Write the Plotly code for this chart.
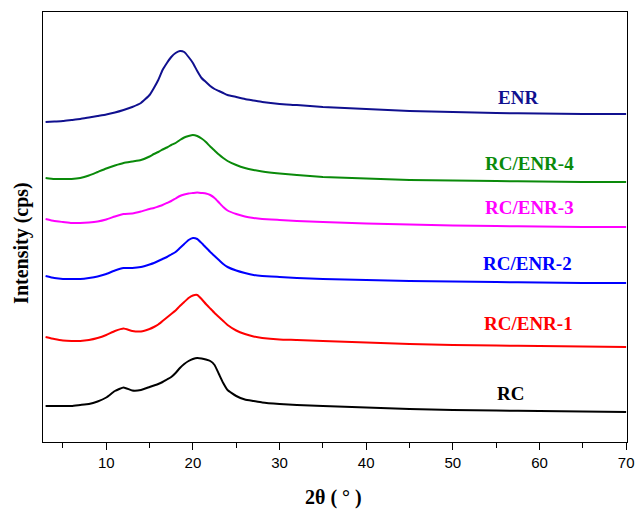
import plotly.graph_objects as go

# 2-theta grid (degrees)
two_theta = [3, 4, 5, 6, 7, 8, 9, 10, 11, 12, 13, 14, 15,
             15.5, 16, 16.5, 17, 17.5, 18, 18.5, 19, 19.5, 20, 20.5, 21, 21.5, 22, 22.5, 23, 23.5, 24,
             25, 26, 27, 28, 30, 32, 35, 40, 45, 50, 55, 60, 65, 70]

# stacked intensities (arbitrary units, offset per sample)
enr = [320, 320.5, 321, 322, 323, 324.5, 326, 327.5, 329.5, 332, 335, 339, 347,
       354, 362, 372, 379, 385, 389, 391, 390, 385, 379, 371, 364, 360, 356, 353, 351, 349, 347,
       345, 343, 341.5, 340, 338, 337, 335, 333, 331, 330, 329, 328.5, 328, 328]
rc_enr4 = [264, 263, 263, 263, 264, 266.5, 270, 273.5, 276.5, 279, 280.5, 282, 285.5,
           288, 290, 292.5, 294.5, 297, 299, 302, 304.5, 306, 307, 306, 303.5, 300, 295.5, 291.5, 287.5, 284, 281,
           277, 274, 272, 270.5, 268.5, 267, 265, 263.5, 262, 261.5, 261, 260.5, 260, 260]
rc_enr3 = [223, 221, 220, 219, 219, 219.5, 220.5, 222.5, 225.5, 228, 228.5, 230.5, 233,
           234, 235.5, 237, 239, 241, 243.5, 246, 247.5, 248.5, 249, 249.5, 249, 248.5, 247, 244, 239.5, 235, 231.5,
           228, 225.5, 224, 223, 222, 221, 220, 218.5, 217.5, 216.5, 216, 215.5, 215, 215]
rc_enr2 = [166, 164, 163, 163, 163, 164, 165.5, 168, 171.5, 174, 174, 175, 177.5,
           179, 181, 183, 185, 187.5, 190, 194, 198, 202, 204, 203, 199, 194.5, 190, 186, 182, 178, 175,
           171.5, 169, 167, 166, 165, 164, 163, 162, 161, 160.5, 160, 159.5, 159, 159]
rc_enr1 = [105, 103, 101.5, 101, 101, 102, 104, 107, 111, 113.5, 111, 110.5, 113,
           115, 117.5, 121, 124.5, 128, 131.5, 136, 140, 144, 146.5, 147, 143, 138, 133.5, 129, 125, 121, 117,
           111.5, 108, 105.5, 104, 102.5, 102, 101, 99.5, 98, 97, 96.5, 96, 95.5, 95]
rc = [36, 36, 36, 36, 37, 38, 40.5, 44.5, 51, 54.5, 51.5, 52, 55,
      56.5, 58, 60, 62.5, 65, 69, 74, 78, 81, 83, 84, 83.5, 82.5, 81, 77, 68, 59, 52,
      46, 42.5, 41, 39.5, 38, 37, 36, 34.5, 33, 32, 31.5, 31, 30.5, 30]

series_names = ["ENR", "RC/ENR-4", "RC/ENR-3", "RC/ENR-2", "RC/ENR-1", "RC"]
series_values = [enr, rc_enr4, rc_enr3, rc_enr2, rc_enr1, rc]
series_colors = ["#10108f", "#0a8a0a", "#ff00ff", "#0000ff", "#ff0000", "#000000"]
label_x = [57.5, 58.9, 58.9, 58.6, 58.7, 56.6]
label_y = [345, 279, 235, 179, 119, 49]

fig = go.Figure()
for name, vals, col in zip(series_names, series_values, series_colors):
    fig.add_trace(go.Scatter(x=two_theta, y=vals, mode="lines", name=name,
                             line=dict(color=col, width=2, shape="spline", smoothing=0.4),
                             showlegend=False))

for name, col, lx, ly in zip(series_names, series_colors, label_x, label_y):
    fig.add_annotation(x=lx, y=ly, text="<b>%s</b>" % name, showarrow=False,
                       font=dict(family="Liberation Serif", size=19, color=col),
                       xanchor="center", yanchor="middle")

# axis titles
fig.add_annotation(xref="paper", yref="paper", x=0.498, y=-0.130, text="<b>2θ ( ° )</b>",
                   showarrow=False, xanchor="center", yanchor="middle",
                   font=dict(family="Liberation Serif", size=20, color="black"))
fig.add_annotation(xref="paper", yref="paper", x=-0.036, y=0.463, text="<b>Intensity (cps)</b>",
                   showarrow=False, xanchor="center", yanchor="middle", textangle=-90,
                   font=dict(family="Liberation Serif", size=20, color="black"))

fig.update_layout(
    width=637, height=513,
    margin=dict(l=43, r=10, t=12, b=71),
    plot_bgcolor="white", paper_bgcolor="white",
)
fig.update_xaxes(
    range=[2.7, 70.1], tickmode="linear", tick0=10, dtick=10,
    ticks="outside", ticklen=7, tickcolor="black", tickwidth=1,
    minor=dict(ticks="outside", ticklen=5, tickcolor="black", tick0=5, dtick=10, showgrid=False),
    showline=True, linecolor="black", linewidth=1, mirror=True,
    showgrid=False, zeroline=False, automargin=False,
    tickfont=dict(family="Liberation Sans", size=15, color="black"),
)
fig.update_yaxes(
    range=[0, 430], showticklabels=False, ticks="",
    showline=True, linecolor="black", linewidth=1, mirror=True,
    showgrid=False, zeroline=False, automargin=False,
)

fig.write_html("out.html", config={"displayModeBar": False},
               post_script="document.body.style.margin='0';document.body.style.padding='0';")
